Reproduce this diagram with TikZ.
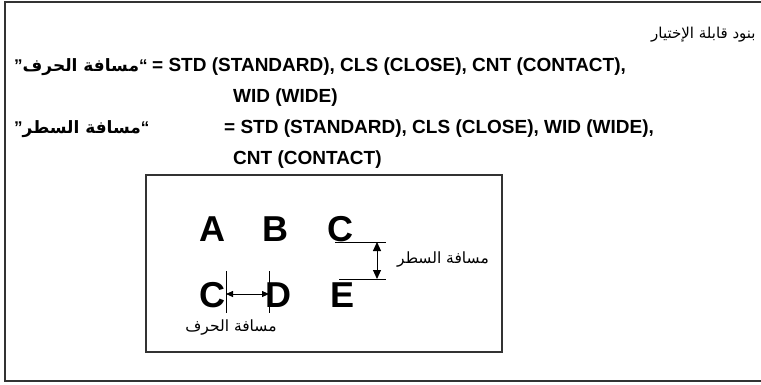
\documentclass[tikz,border=0pt]{standalone}
\usepackage{fontspec}
\setmainfont{Liberation Sans}
\newfontfamily\arabicfont[Script=Arabic]{DejaVu Sans}
\TeXXeTstate=1
\usetikzlibrary{positioning, arrows.meta}

\tikzset{
  optline/.style={anchor=base west, inner sep=0pt, font=\bfseries\fontsize{19}{22}\selectfont},
  optname/.style={anchor=base west, inner sep=0pt, font=\bfseries\fontsize{17}{20}\selectfont},
  bigletter/.style={anchor=base, inner sep=0pt, font=\bfseries\fontsize{36}{40}\selectfont},
  arlabel/.style={inner sep=0pt, font=\arabicfont\fontsize{15.5}{18}\selectfont},
  gapline/.style={line width=0.8pt},
  dimarrow/.style={{Triangle[length=9pt,width=8pt]}-{Triangle[length=9pt,width=8pt]}, line width=1pt},
  smallarrow/.style={{Triangle[length=7pt,width=6pt]}-{Triangle[length=7pt,width=6pt]}, line width=0.8pt}
}

\begin{document}
\begin{tikzpicture}[x=1pt,y=-1pt]
\useasboundingbox (0,0) rectangle (761,384);
\clip (0,0) rectangle (761,384);
% frames
\draw[line width=1.4pt, black!80] (5,2) rectangle (780,381);
\draw[line width=1.2pt, black!80] (146,175) rectangle (502,352);

% option lines
\node[arlabel, anchor=base west, font=\arabicfont\fontsize{15}{18}\selectfont] (head) at (651,38) {\beginR بنود قابلة الإختيار\endR};
\node[optname] (pitchname) at (14,71) {”{\arabicfont\bfseries\beginR مسافة الحرف\endR}“};
\node[optline] (pitchval) at (152,71) {= STD (STANDARD), CLS (CLOSE), CNT (CONTACT),};
\node[optname] (lsname) at (14,133) {”{\arabicfont\bfseries\beginR مسافة السطر\endR}“};
\node[optline] (lsval) at (224,133) {= STD (STANDARD), CLS (CLOSE), WID (WIDE),};
\node[optline] (wid) at ([xshift=9pt]lsval.west |- 0,102) {WID (WIDE)};
\node[optline] (cnt) at ([xshift=9pt]lsval.west |- 0,164) {CNT (CONTACT)};

% sample letters
\node[bigletter] (a) at (212,241) {A};
\node[bigletter] (b) at (275,241) {B};
\node[bigletter] (c1) at (340,241) {C};
\node[bigletter] (c2) at (212,307) {C};
\node[bigletter] (d) at (278,307) {D};
\node[bigletter] (e) at (343,307) {E};

% line spacing
\coordinate (ls1) at (335,242);
\coordinate (ls2) at (339,279);
\coordinate (ls1e) at (386,242);
\coordinate (ls2e) at (386,279);
\draw[gapline] (ls1) -- (ls1e);
\draw[gapline] (ls2) -- (ls2e);
\coordinate (lsa) at (377,242);
\coordinate (lsb) at (377,279);
\draw[dimarrow] (lsa) -- (lsb);
\node[arlabel, anchor=west] (lslabel) at (397,259) {\beginR مسافة السطر\endR};

% character spacing
\coordinate (cs1t) at (226,271);
\coordinate (cs1b) at (226,313);
\coordinate (cs2t) at (269,271);
\coordinate (cs2b) at (269,313);
\draw[gapline] (cs1t) -- (cs1b);
\draw[gapline] (cs2t) -- (cs2b);
\coordinate (csa) at (226,294);
\coordinate (csb) at (269,294);
\draw[smallarrow] (csa) -- (csb);
\node[arlabel] (cslabel) at (231,327) {\beginR مسافة الحرف\endR};
\end{tikzpicture}
\end{document}
